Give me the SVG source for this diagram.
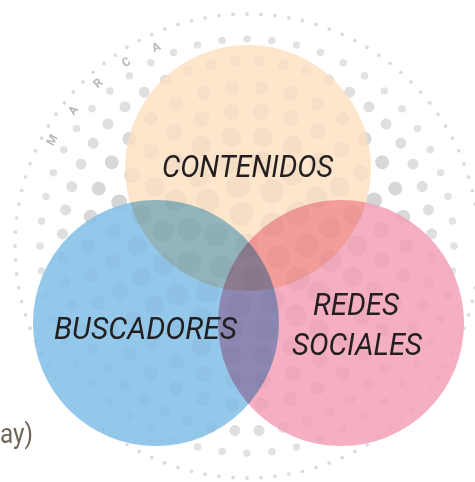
<svg xmlns="http://www.w3.org/2000/svg" width="475" height="482" viewBox="0 0 475 482">
<style>
.ring{fill:none;stroke-linecap:round}
.lbl{font-family:Roboto,"Liberation Sans",sans-serif;font-style:italic;font-size:31px;fill:#231f20}
.mk{font-family:Roboto,"Liberation Sans",sans-serif;font-weight:bold;font-size:12px;fill:#b8b8b8;text-anchor:middle;dominant-baseline:central}
.venn{mix-blend-mode:multiply}
</style>
<rect width="475" height="482" fill="#ffffff"/>
<g id="halftone">
<circle class="ring" cx="247" cy="246" r="232" stroke="#dcdcdc" stroke-width="3.8" pathLength="104" stroke-dasharray="0 1"/>
<circle class="ring" cx="247" cy="246" r="207" stroke="#e2e2e2" stroke-width="7.5" pathLength="52" stroke-dasharray="0 1"/>
<circle class="ring" cx="247" cy="246" r="185" stroke="#dfdfdf" stroke-width="11" pathLength="48" stroke-dasharray="0 1" transform="rotate(3.75 247 246)"/>
<circle class="ring" cx="247" cy="246" r="159" stroke="#d8d8d8" stroke-width="14" pathLength="34" stroke-dasharray="0 1"/>
<circle class="ring" cx="247" cy="246" r="135" stroke="#d4d4d4" stroke-width="16" pathLength="28" stroke-dasharray="0 1" transform="rotate(6 247 246)"/>
<circle class="ring" cx="247" cy="246" r="110" stroke="#d2d2d2" stroke-width="20" pathLength="22" stroke-dasharray="0 1"/>
<circle class="ring" cx="247" cy="246" r="85" stroke="#d2d2d2" stroke-width="22" pathLength="16" stroke-dasharray="0 1" transform="rotate(10 247 246)"/>
<circle class="ring" cx="247" cy="246" r="60" stroke="#d2d2d2" stroke-width="24" pathLength="11" stroke-dasharray="0 1"/>
<circle class="ring" cx="247" cy="246" r="33" stroke="#d2d2d2" stroke-width="24" pathLength="6" stroke-dasharray="0 1" transform="rotate(20 247 246)"/>
<circle cx="247" cy="246" r="12" fill="#d2d2d2"/>
</g>
<g id="marca">
<text class="mk" x="52" y="140" transform="rotate(-61.5 52 140)">M</text>
<text class="mk" x="73" y="110" transform="rotate(-52 73 110)">A</text>
<text class="mk" x="98" y="83" transform="rotate(-42 98 83)">R</text>
<text class="mk" x="126" y="62" transform="rotate(-33 126 62)">C</text>
<text class="mk" x="156" y="47" transform="rotate(-24 156 47)">A</text>
</g>
<g opacity="0.84" fill="#ffffff">
<circle cx="248" cy="168" r="123"/>
<circle cx="156" cy="323" r="123"/>
<circle cx="341" cy="323" r="123"/>
</g>
<g id="contenidos">
<circle class="venn" cx="248" cy="168" r="123" fill="#fde6cc"/>
</g>
<g id="buscadores">
<circle class="venn" cx="156" cy="323" r="123" fill="#93c8eb"/>
</g>
<g id="redes-sociales">
<circle class="venn" cx="341" cy="323" r="123" fill="#f5aec2"/>
</g>
<g id="connectors"></g>
<g id="labels">
<text class="lbl" x="162" y="177" textLength="171" lengthAdjust="spacingAndGlyphs">CONTENIDOS</text>
<text class="lbl" x="54" y="339" textLength="183" lengthAdjust="spacingAndGlyphs">BUSCADORES</text>
<text class="lbl" x="313" y="315" textLength="86" lengthAdjust="spacingAndGlyphs">REDES</text>
<text class="lbl" x="292" y="355" textLength="130" lengthAdjust="spacingAndGlyphs">SOCIALES</text>
<text x="0" y="443" textLength="33" lengthAdjust="spacingAndGlyphs" font-family="Roboto,'Liberation Sans',sans-serif" font-size="27" fill="#6f6558">ay)</text>
</g>
</svg>
